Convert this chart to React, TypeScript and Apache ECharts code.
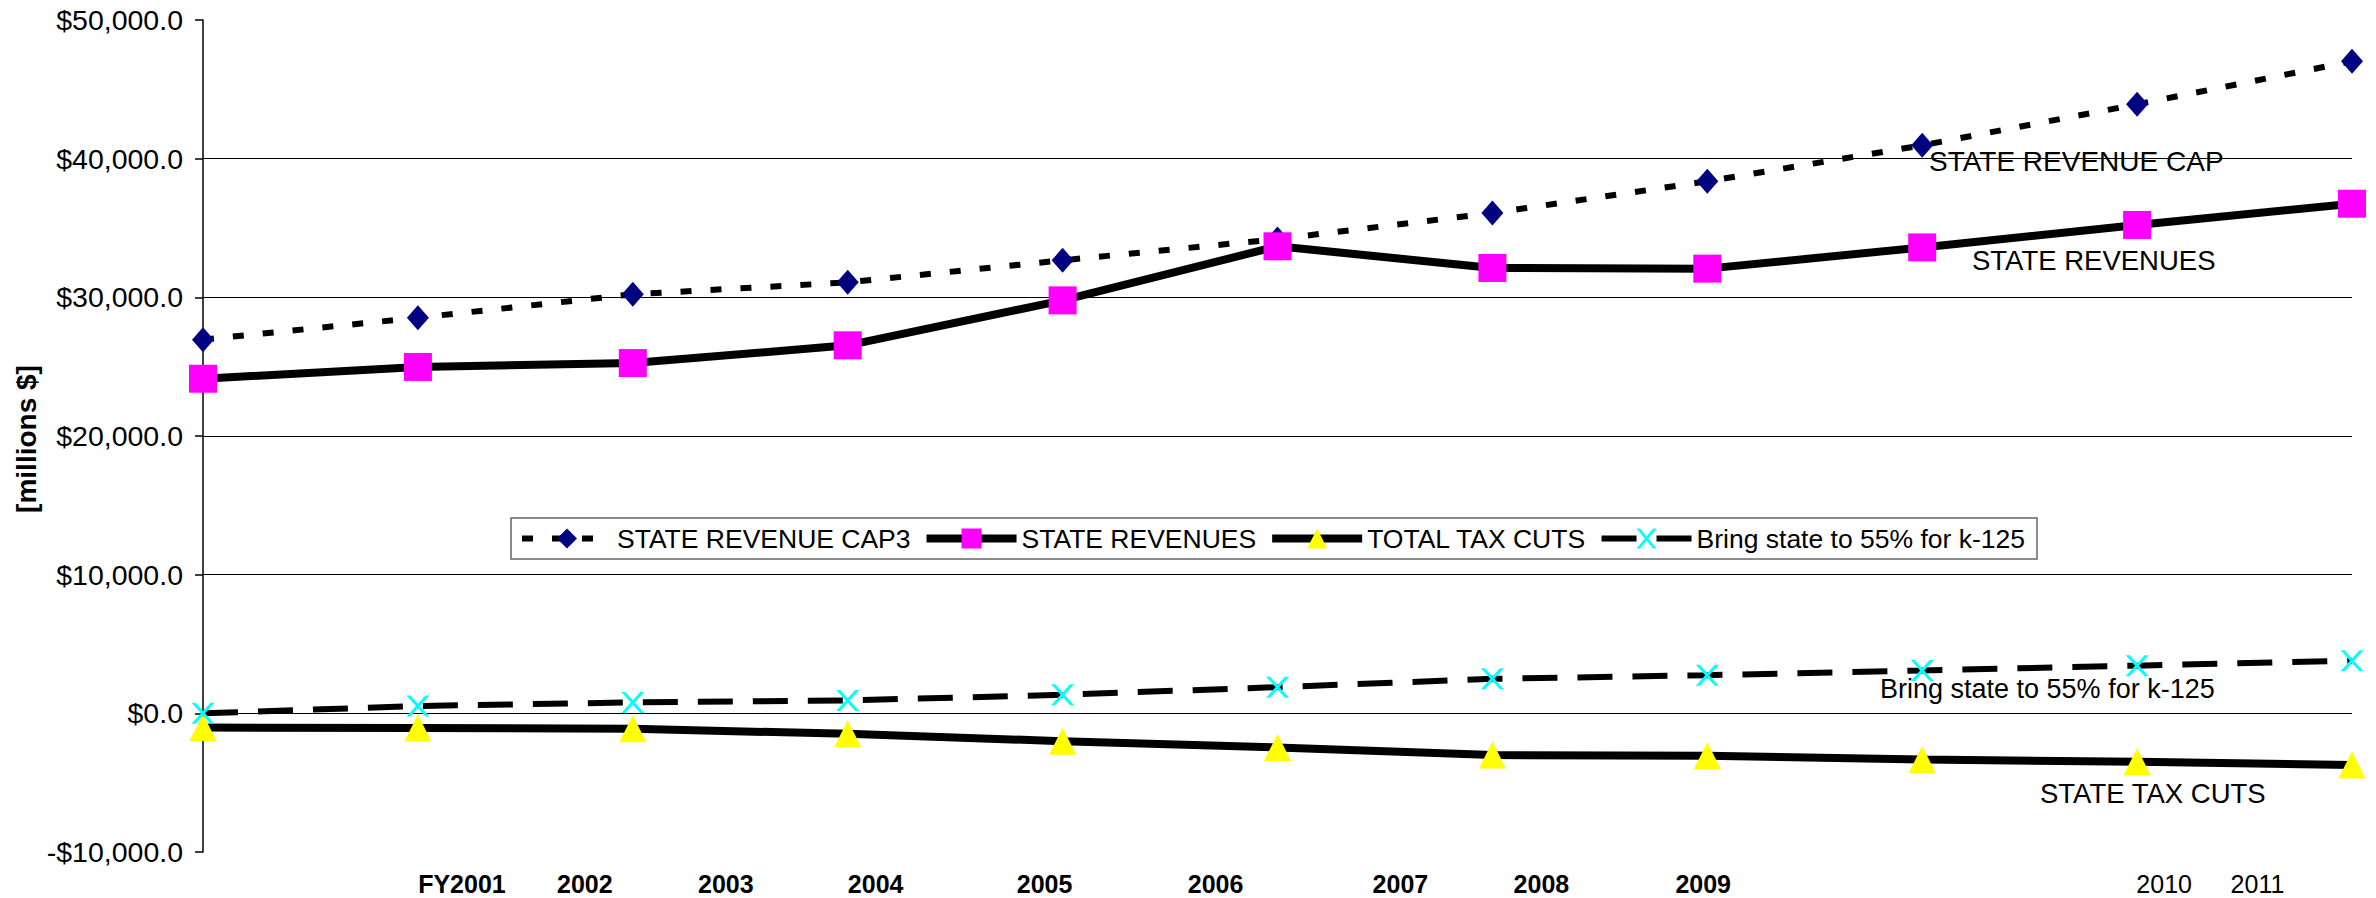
import React, { useEffect, useRef } from "react";
import * as echarts from "echarts";

const categories = ["2001", "2002", "2003", "2004", "2005", "2006", "2007", "2008", "2009", "2010", "2011"];

const revenueCap = [26950, 28530, 30220, 31080, 32670, 34200, 36080, 38370, 40960, 43920, 47020];
const revenues = [24130, 24980, 25260, 26540, 29780, 33680, 32120, 32070, 33600, 35220, 36750];
const taxCuts = [-1030, -1050, -1120, -1480, -2010, -2460, -3010, -3060, -3330, -3490, -3730];
const bringState = [0, 530, 790, 930, 1340, 1890, 2490, 2750, 3090, 3440, 3800];

const tickLabels = ["FY2001", "2002", "2003", "2004", "2005", "2006", "2007", "2008", "2009", "2010", "2011"];
const tickLabelBold = [true, true, true, true, true, true, true, true, true, false, false];
const tickLabelPositions = [1.205, 1.777, 2.433, 3.13, 3.916, 4.712, 5.572, 6.228, 6.981, 9.126, 9.56];

const seriesNames = ["STATE REVENUE CAP3", "STATE REVENUES", "TOTAL TAX CUTS", "Bring state to 55% for k-125"];

const FONT = "'Liberation Sans', Arial, sans-serif";
const X_SYMBOL = "path://M0,0 L3.5,0 L20,18 L16.5,18 Z M16.5,0 L20,0 L3.5,18 L0,18 Z";

function fmtMoney(v: number): string {
  const s = Math.abs(v).toLocaleString("en-US", { minimumFractionDigits: 1, maximumFractionDigits: 1 });
  return (v < 0 ? "-" : "") + "$" + s;
}

export default function App() {
  const ref = useRef<HTMLDivElement>(null);
  useEffect(() => {
    document.body.style.margin = "0";
    const chart = echarts.init(ref.current!, null, { renderer: "svg" });
    const option: any = {
      animation: false,
      backgroundColor: "#ffffff",
      textStyle: { fontFamily: FONT },
      grid: { left: 203, right: 24, top: 20, bottom: 46, containLabel: false },
      legend: {
        left: 511,
        top: 518,
        data: seriesNames,
        itemWidth: 90,
        itemHeight: 25,
        itemGap: 12,
        padding: [7, 12, 7, 8],
        borderColor: "#666",
        borderWidth: 1.5,
        backgroundColor: "#fff",
        lineStyle: { width: "inherit", type: "inherit" },
        textStyle: { fontSize: 26.5, color: "#000", fontFamily: FONT },
      },
      xAxis: [
        {
          type: "category",
          data: categories,
          boundaryGap: false,
          axisLine: { show: false },
          axisTick: { show: false },
          axisLabel: { show: false },
          splitLine: { show: false },
        },
        {
          type: "value",
          min: 0,
          max: 10,
          position: "bottom",
          axisLine: { show: false },
          axisTick: { show: false },
          splitLine: { show: false },
          axisLabel: {
            customValues: tickLabelPositions,
            margin: 18,
            hideOverlap: false,
            formatter: (value: number) => {
              let idx = 0;
              let best = Infinity;
              tickLabelPositions.forEach((p, i) => {
                const d = Math.abs(p - value);
                if (d < best) {
                  best = d;
                  idx = i;
                }
              });
              return (tickLabelBold[idx] ? "{b|" : "{n|") + tickLabels[idx] + "}";
            },
            rich: {
              b: { fontSize: 25, fontWeight: "bold", color: "#000", fontFamily: FONT, lineHeight: 27 },
              n: { fontSize: 25, fontWeight: "normal", color: "#000", fontFamily: FONT, lineHeight: 27 },
            },
          },
        },
      ],
      yAxis: {
        type: "value",
        min: -10000,
        max: 50000,
        interval: 10000,
        axisLine: { show: true, lineStyle: { color: "#000", width: 1.5 } },
        axisTick: { show: true, length: 8, lineStyle: { color: "#000", width: 1.5 } },
        axisLabel: {
          margin: 20,
          fontSize: 28.5,
          color: "#000",
          fontFamily: FONT,
          formatter: (v: number) => fmtMoney(v),
        },
        splitLine: {
          show: true,
          lineStyle: {
            color: ["transparent", "#000", "#000", "#000", "#000", "#000", "transparent"],
            width: 1.2,
          },
        },
      },
      series: [
        {
          name: seriesNames[0],
          type: "line",
          data: revenueCap,
          symbol: "diamond",
          symbolSize: [22, 25],
          itemStyle: { color: "#000080" },
          lineStyle: { color: "#000", width: 6, type: [11, 19] },
          z: 2,
        },
        {
          name: seriesNames[1],
          type: "line",
          data: revenues,
          symbol: "rect",
          symbolSize: 28,
          itemStyle: { color: "#FF00FF" },
          lineStyle: { color: "#000", width: 8 },
          z: 3,
        },
        {
          name: seriesNames[2],
          type: "line",
          data: taxCuts,
          symbol: "triangle",
          symbolSize: [27, 27],
          itemStyle: { color: "#FFFF00" },
          lineStyle: { color: "#000", width: 8 },
          z: 3,
        },
        {
          name: seriesNames[3],
          type: "line",
          data: bringState,
          symbol: X_SYMBOL,
          symbolSize: [23, 21],
          itemStyle: { color: "#00FFFF" },
          lineStyle: { color: "#000", width: 6, type: [35, 20] },
          z: 4,
        },
      ],
      graphic: [
        {
          type: "text",
          x: 26,
          y: 439,
          rotation: Math.PI / 2,
          style: { text: "[millions $]", font: `bold 28px ${FONT}`, fill: "#000", align: "center", verticalAlign: "middle" },
        },
        {
          type: "text",
          x: 1929,
          y: 161,
          z: 10,
          style: { text: "STATE REVENUE CAP", font: `28px ${FONT}`, fill: "#000", align: "left", verticalAlign: "middle" },
        },
        {
          type: "text",
          x: 1972,
          y: 260,
          z: 10,
          style: { text: "STATE REVENUES", font: `27.5px ${FONT}`, fill: "#000", align: "left", verticalAlign: "middle" },
        },
        {
          type: "text",
          x: 1880,
          y: 689,
          z: 10,
          style: { text: "Bring state to 55% for k-125", font: `27px ${FONT}`, fill: "#000", align: "left", verticalAlign: "middle" },
        },
        {
          type: "text",
          x: 2040,
          y: 793,
          z: 10,
          style: { text: "STATE TAX CUTS", font: `27.5px ${FONT}`, fill: "#000", align: "left", verticalAlign: "middle" },
        },
      ],
    };
    chart.setOption(option);
    return () => chart.dispose();
  }, []);
  return <div ref={ref} style={{ position: "absolute", left: 0, top: 0, width: 2376, height: 898 }} />;
}
